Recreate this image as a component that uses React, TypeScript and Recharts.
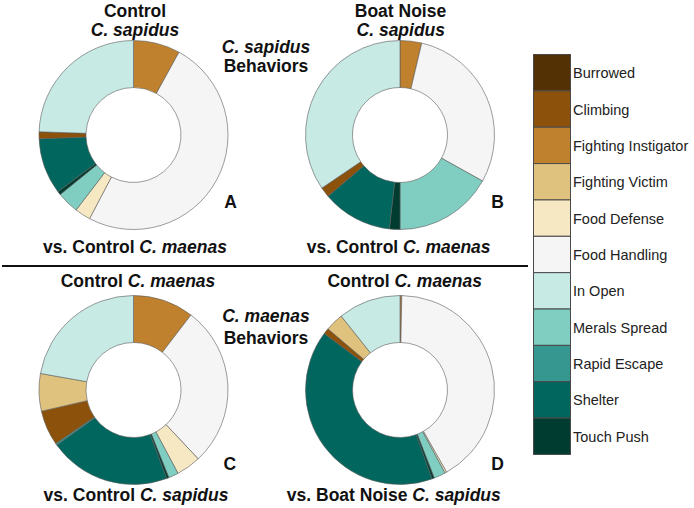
import React from 'react';
import { PieChart, Pie, Cell, Legend } from 'recharts';

const categories = ['Burrowed', 'Climbing', 'Fighting Instigator', 'Fighting Victim', 'Food Defense', 'Food Handling', 'In Open', 'Merals Spread', 'Rapid Escape', 'Shelter', 'Touch Push'];
const colors = ['#543005', '#8c510a', '#bf812d', '#dfc27d', '#f6e8c3', '#f5f5f5', '#c7eae5', '#80cdc1', '#35978f', '#01665e', '#003c30'];

// slice order around each donut (clockwise from 12 o'clock)
const sliceOrder = ['Fighting Instigator', 'Food Handling', 'Food Defense', 'Merals Spread', 'Touch Push', 'Shelter', 'Rapid Escape', 'Climbing', 'Burrowed', 'Fighting Victim', 'In Open'];

// percent values aligned to sliceOrder
const controlSapidusVsControlMaenas = [8.0, 49.7, 2.7, 3.75, 0.6, 9.6, 0, 1.2, 0, 0, 24.45];
const boatSapidusVsControlMaenas = [3.7, 29.4, 0, 16.9, 1.8, 12.0, 0, 1.7, 0, 0, 34.5];
const controlMaenasVsControlSapidus = [10.4, 27.6, 4.2, 1.7, 0.4, 20.8, 0.3, 6.0, 0, 6.4, 22.2];
const controlMaenasVsBoatSapidus = [0.3, 41.5, 0.3, 2.0, 0.4, 40.7, 0, 1.0, 0, 3.1, 10.7];

const build = (vals: number[]) =>
  sliceOrder
    .map((name, i) => ({ name, value: vals[i], fill: colors[categories.indexOf(name)] }))
    .filter((d) => d.value > 0);

const panels = [
  { key: 'A', data: build(controlSapidusVsControlMaenas), cx: 133.5, cy: 135 },
  { key: 'B', data: build(boatSapidusVsControlMaenas), cx: 400, cy: 135 },
  { key: 'C', data: build(controlMaenasVsControlSapidus), cx: 133.5, cy: 390 },
  { key: 'D', data: build(controlMaenasVsBoatSapidus), cx: 400, cy: 390 },
];

const FONT = '"Liberation Sans", Arial, sans-serif';
const SW = 36.36;

const LegendContent = () => (
  <svg width={160} height={404} style={{ display: 'block', overflow: 'visible' }}>
    {categories.map((c, i) => (
      <g key={c}>
        <rect x={0.5} y={0.5 + i * SW} width={37} height={SW} fill={colors[i]} stroke="#4a4a4a" strokeWidth={1} />
        <text x={40} y={i * SW + SW / 2 + 1} dominantBaseline="central" fontFamily={FONT} fontSize={14.5} fill="#222">
          {c}
        </text>
      </g>
    ))}
  </svg>
);

const T = ({ x, y, children, size = 17.5 }: any) => (
  <text x={x} y={y} textAnchor="middle" fontFamily={FONT} fontWeight="bold" fontSize={size} fill="#111">
    {children}
  </text>
);
const I = ({ children }: any) => <tspan fontStyle="italic">{children}</tspan>;

export default function App() {
  return (
    <div style={{ position: 'absolute', left: 0, top: 0, width: 694, height: 508, background: '#fff' }}>
      <PieChart width={694} height={508} margin={{ top: 0, right: 0, bottom: 0, left: 0 }}>
        {panels.map((p) => (
          <Pie
            key={p.key}
            data={p.data}
            dataKey="value"
            nameKey="name"
            cx={p.cx}
            cy={p.cy}
            innerRadius={47.5}
            outerRadius={94.5}
            startAngle={90}
            endAngle={-270}
            stroke="#5a5a5a"
            strokeWidth={0.6}
            isAnimationActive={false}
            label={false}
            labelLine={false}
          >
            {p.data.map((d) => (
              <Cell key={d.name} fill={d.fill} />
            ))}
          </Pie>
        ))}
        <Legend
          layout="vertical"
          align="right"
          verticalAlign="top"
          content={() => <LegendContent />}
          wrapperStyle={{ position: 'absolute', left: 533, top: 54, width: 160, height: 404 }}
        />
      </PieChart>
      <svg width={694} height={508} style={{ position: 'absolute', left: 0, top: 0, pointerEvents: 'none' }}>
        <T x={135} y={17}>Control</T>
        <T x={135} y={36}><I>C. sapidus</I></T>
        <T x={400.5} y={17}>Boat Noise</T>
        <T x={400.8} y={36}><I>C. sapidus</I></T>
        <T x={266} y={53}><I>C. sapidus</I></T>
        <T x={266} y={72}>Behaviors</T>
        <T x={230.5} y={208}>A</T>
        <T x={497.5} y={208}>B</T>
        <T x={135} y={252.5}>vs. Control <I>C. maenas</I></T>
        <T x={398.7} y={252.5}>vs. Control <I>C. maenas</I></T>
        <line x1={2} y1={266} x2={528} y2={266} stroke="#111" strokeWidth={2} />
        <T x={138} y={286.5}>Control <I>C. maenas</I></T>
        <T x={404.7} y={286.5}>Control <I>C. maenas</I></T>
        <T x={266} y={322}><I>C. maenas</I></T>
        <T x={266} y={344}>Behaviors</T>
        <T x={229.7} y={470}>C</T>
        <T x={497.5} y={470}>D</T>
        <T x={136} y={500.5}>vs. Control <I>C. sapidus</I></T>
        <T x={393.8} y={500.5}>vs. Boat Noise <I>C. sapidus</I></T>
      </svg>
    </div>
  );
}
